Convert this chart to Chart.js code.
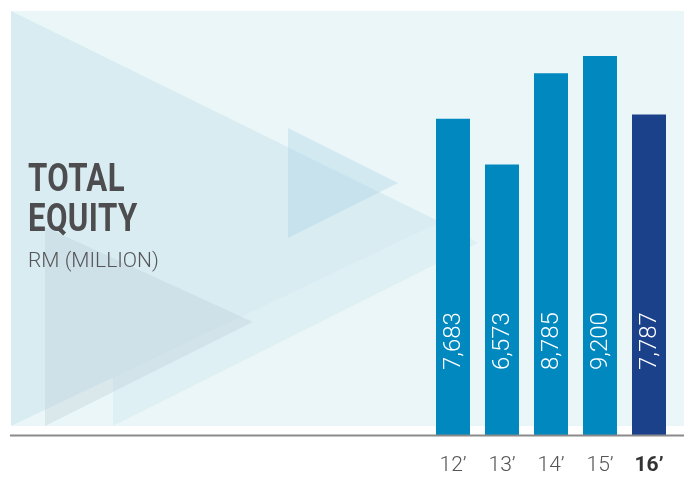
<!DOCTYPE html>
<html>
<head>
<meta charset="utf-8">
<script src="https://cdn.jsdelivr.net/npm/chart.js@4"></script>
<style>
  html, body { margin: 0; padding: 0; background: #fff; }
  .wrap { position: relative; width: 684px; height: 477px; overflow: hidden; }
  canvas { position: absolute; left: 0; top: 0; }
  .title {
    position: absolute; left: 28px; top: 158px;
    font-family: Roboto, sans-serif; font-weight: 700; font-size: 39px; line-height: 40px;
    color: #4d4d4f; transform: scaleX(0.8); transform-origin: left top; letter-spacing: 0.5px;
  }
  .unit {
    position: absolute; left: 28px; top: 248px;
    font-family: Roboto, sans-serif; font-weight: 300; font-size: 21px;
    color: #555557;
  }
</style>
</head>
<body>
<div class="wrap">
  <canvas id="equityChart" width="684" height="477"></canvas>
  <div class="title">TOTAL<br>EQUITY</div>
  <div class="unit">RM (MILLION)</div>
</div>
<script>
// --- DATA ---
const years = ['12’', '13’', '14’', '15’', '16’'];
const equity = [7683, 6573, 8785, 9200, 7787];
const barColors = ['#0088bf', '#0088bf', '#0088bf', '#0088bf', '#1c418b'];

// background panel with the faded triangle shapes
const panel = { x: 11, y: 11, w: 673, h: 415 };
const shapes = [
  { pts: [[11, 11], [11, 426], [440, 222]], fill: 'rgba(190, 222, 236, 0.4)' },
  { pts: [[113, 377], [113, 426], [478, 243], [440, 222]], fill: 'rgba(200, 228, 238, 0.35)' },
  { pts: [[45, 227], [45, 426], [253, 322]], fill: 'rgba(190, 205, 215, 0.35)' },
  { pts: [[288, 128], [288, 238], [398, 183]], fill: 'rgba(170, 210, 230, 0.35)' }
];

const backdrop = {
  id: 'backdrop',
  beforeDraw(chart) {
    const ctx = chart.ctx;
    ctx.save();
    ctx.fillStyle = '#eaf6f7';
    ctx.fillRect(panel.x, panel.y, panel.w, panel.h);
    ctx.beginPath();
    ctx.rect(panel.x, panel.y, panel.w, panel.h);
    ctx.clip();
    shapes.forEach(s => {
      ctx.beginPath();
      s.pts.forEach(([x, y], i) => i ? ctx.lineTo(x, y) : ctx.moveTo(x, y));
      ctx.closePath();
      ctx.fillStyle = s.fill;
      ctx.fill();
    });
    ctx.restore();
  },
  afterDatasetsDraw(chart) {
    const ctx = chart.ctx;
    const base = chart.scales.y.getPixelForValue(0);

    // value labels, rotated inside each bar
    ctx.save();
    ctx.fillStyle = '#ffffff';
    ctx.font = '300 24px Roboto';
    ctx.textAlign = 'left';
    ctx.textBaseline = 'middle';
    chart.getDatasetMeta(0).data.forEach((bar, i) => {
      ctx.save();
      ctx.translate(bar.x + 1, base - 66);
      ctx.rotate(-Math.PI / 2);
      ctx.fillText(equity[i].toLocaleString('en-US'), 0, 0);
      ctx.restore();
    });
    ctx.restore();

    // baseline
    ctx.save();
    ctx.strokeStyle = '#8a8a8a';
    ctx.lineWidth = 2;
    ctx.beginPath();
    ctx.moveTo(10, base - 0.5);
    ctx.lineTo(684, base - 0.5);
    ctx.stroke();
    ctx.restore();
  }
};

new Chart(document.getElementById('equityChart'), {
  type: 'bar',
  data: {
    labels: years,
    datasets: [{
      data: equity,
      backgroundColor: barColors,
      borderWidth: 0,
      categoryPercentage: 1,
      barPercentage: 0.694
    }]
  },
  options: {
    responsive: false,
    animation: false,
    layout: { padding: { left: 428.5, right: 10.5, top: 23, bottom: 0 } },
    plugins: { legend: { display: false }, tooltip: { enabled: false } },
    scales: {
      x: {
        grid: { display: false, drawTicks: false },
        border: { display: false },
        afterFit: scale => { scale.height = 41; },
        ticks: {
          padding: 17,
          color: ctx => ctx.index === 4 ? '#333333' : '#555555',
          font: ctx => ({ family: 'Roboto', size: 21, weight: ctx.index === 4 ? 'bold' : 300 })
        }
      },
      y: { display: false, min: 0, max: 10000 }
    }
  },
  plugins: [backdrop]
});
</script>
</body>
</html>
